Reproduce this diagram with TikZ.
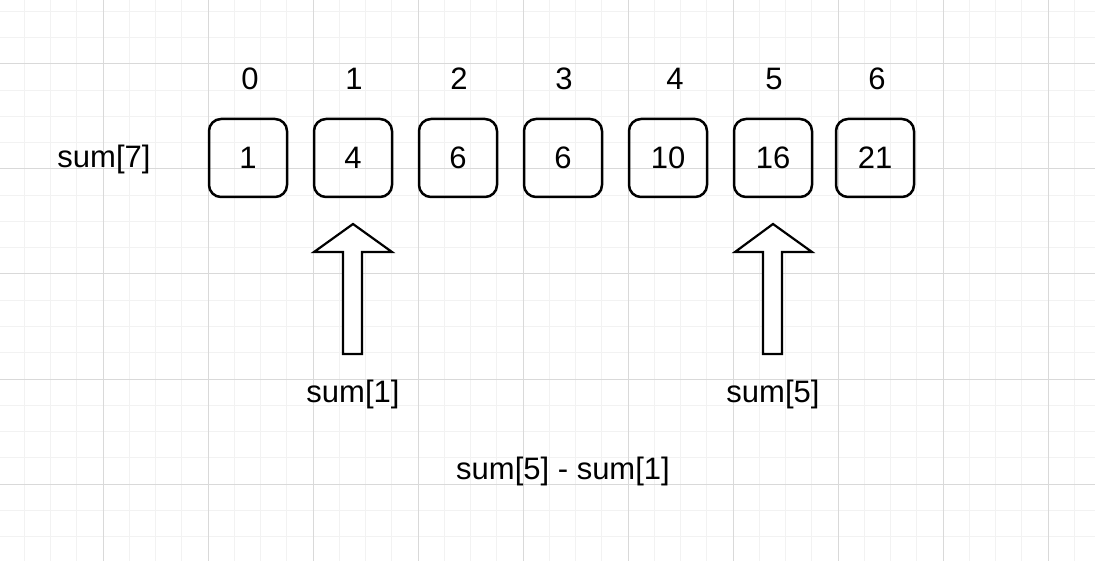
\documentclass[tikz,border=0pt]{standalone}
\usepackage{fontspec}
\setmainfont{Liberation Sans}
\begin{document}
\begin{tikzpicture}[x=1pt,y=-1pt,
  cell/.style={draw=black,line width=2.5pt,rounded corners=12pt,minimum width=78pt,minimum height=78pt,inner sep=0pt,font=\fontsize{31}{36}\selectfont},
  lbl/.style={inner sep=0pt,font=\fontsize{31}{36}\selectfont},
  blockarrow/.style={draw=black,line width=2.2pt,fill=white,line join=miter}]
\useasboundingbox (0,0) rectangle (1095,561);
\fill[white] (0,0) rectangle (1095,561);
% minor grid
\foreach \i in {0,...,42} {
  \draw[color=black!5,line width=1pt] ({-2+26.25*\i},0) -- ({-2+26.25*\i},561);
}
\foreach \j in {0,...,21} {
  \draw[color=black!5,line width=1pt] (0,{11.5+26.25*\j}) -- (1095,{11.5+26.25*\j});
}
% major grid
\foreach \i in {0,...,10} {
  \draw[color=black!15,line width=1pt] ({-2+105*\i},0) -- ({-2+105*\i},561);
}
\foreach \j in {0,...,5} {
  \draw[color=black!15,line width=1pt] (0,{64+105*\j}) -- (1095,{64+105*\j});
}
% index labels
\node[lbl] (i0) at (250,79) {0};
\node[lbl] (i1) at (354,79) {1};
\node[lbl] (i2) at (459,79) {2};
\node[lbl] (i3) at (564,79) {3};
\node[lbl] (i4) at (675,79) {4};
\node[lbl] (i5) at (774,79) {5};
\node[lbl] (i6) at (877,79) {6};
% cells
\node[cell] (b0) at (248,158) {1};
\node[cell] (b1) at (353,158) {4};
\node[cell] (b2) at (458,158) {6};
\node[cell] (b3) at (563,158) {6};
\node[cell] (b4) at (668,158) {10};
\node[cell] (b5) at (773,158) {16};
\node[cell] (b6) at (875,158) {21};
\node[lbl] (arr) at (104,159) {sum[7]};
% block arrows
\draw[blockarrow] (353,224) -- (392,252) -- (362,252) -- (362,354) -- (343,354) -- (343,252) -- (314,252) -- cycle;
\draw[blockarrow] (773,224) -- (812,252) -- (782,252) -- (782,354) -- (763,354) -- (763,252) -- (735,252) -- cycle;
% labels
\node[lbl] (s1) at (353,394) {sum[1]};
\node[lbl] (s5) at (773,394) {sum[5]};
\node[lbl] (diff) at (563,471) {sum[5] - sum[1]};
\end{tikzpicture}
\end{document}
